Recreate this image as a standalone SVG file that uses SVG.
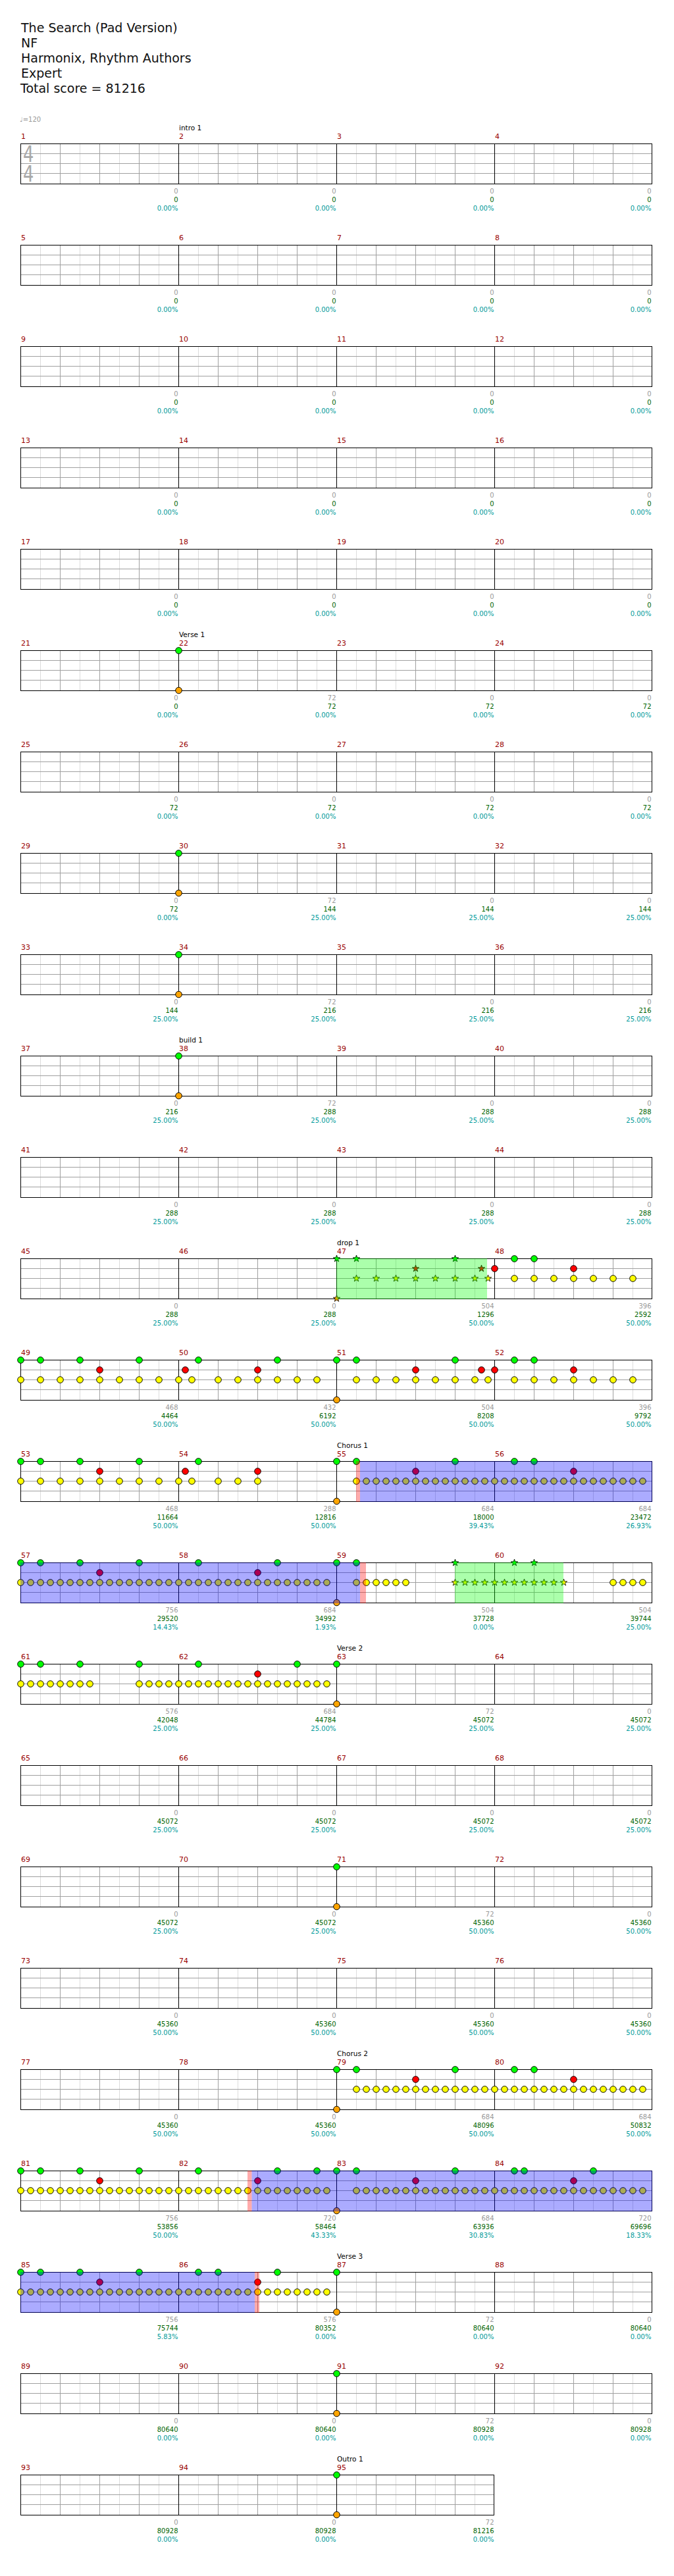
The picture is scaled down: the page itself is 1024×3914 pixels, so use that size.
<svg xmlns="http://www.w3.org/2000/svg" xmlns:xlink="http://www.w3.org/1999/xlink" width="1024" height="3914" viewBox="0 0 1024 3914">
<style>
.hdr{font-family:"DejaVu Sans",sans-serif;font-size:19px;fill:#111}
.tmp{font-family:"DejaVu Sans",sans-serif;font-size:10px;fill:#999}
.ts{font-family:"DejaVu Sans",sans-serif;font-size:33px;fill:#a8a8a8}
.mn{font-family:"DejaVu Sans",sans-serif;font-size:11px;fill:#990000}
.sec{font-family:"DejaVu Sans",sans-serif;font-size:10.5px;fill:#000}
.sc{font-family:"DejaVu Sans",sans-serif;font-size:10px;text-anchor:end}
.s1{fill:#999}.s2{fill:#006400}.s3{fill:#009a9a}
.lt{stroke:#dcdcdc;stroke-width:1;fill:none}
.gr{stroke:#a0a0a0;stroke-width:1;fill:none}
.bk{stroke:#000;stroke-width:1;fill:none}
.odg{fill:#00ff00;fill-opacity:0.33}
.odb{fill:#0000ff;fill-opacity:0.33}
.odr{fill:#ff0000;fill-opacity:0.33}
</style>
<defs>
<circle id="G" cx="0.5" cy="0.5" r="4.8" fill="#00ff00" stroke="#000"/>
<circle id="R" cx="0.5" cy="15.5" r="4.8" fill="#ff0000" stroke="#000"/>
<circle id="Y" cx="0.5" cy="30.5" r="4.8" fill="#ffff00" stroke="#000"/>
<circle id="O" cx="0.5" cy="61" r="4.8" fill="#ffa500" stroke="#000"/>
<path id="st" d="M0,-5.5L1.29,-1.78L5.23,-1.7L2.09,0.68L3.23,4.45L0,2.2L-3.23,4.45L-2.09,0.68L-5.23,-1.7L-1.29,-1.78Z" stroke="#000" stroke-width="0.8"/>
<use id="SG" href="#st" x="0.5" y="0.5" fill="#00ff00"/>
<use id="SR" href="#st" x="0.5" y="15.5" fill="#ff0000"/>
<use id="SY" href="#st" x="0.5" y="30.5" fill="#ffff00"/>
<use id="SO" href="#st" x="0.5" y="61" fill="#ffa500"/>
<g id="Y8"><use href="#Y" x="0"/><use href="#Y" x="15"/><use href="#Y" x="30"/><use href="#Y" x="45"/><use href="#Y" x="60"/><use href="#Y" x="75"/><use href="#Y" x="90"/><use href="#Y" x="105"/></g>
<g id="Y16"><use href="#Y8"/><use href="#Y8" x="120"/></g>
<g id="Ye8"><use href="#Y" x="0"/><use href="#Y" x="30"/><use href="#Y" x="60"/><use href="#Y" x="90"/><use href="#Y" x="120"/><use href="#Y" x="150"/><use href="#Y" x="180"/><use href="#Y" x="210"/></g>
<g id="st4">
<path class="lt" d="M61.5,1V61M121.5,1V61M181.5,1V61M241.5,1V61M301.5,1V61M361.5,1V61M421.5,1V61M481.5,1V61M541.5,1V61M601.5,1V61M661.5,1V61M721.5,1V61M781.5,1V61M841.5,1V61M901.5,1V61M961.5,1V61"/>
<path class="gr" d="M31,15.5H991M31,30.5H991M31,45.5H991M91.5,1V61M151.5,1V61M211.5,1V61M331.5,1V61M391.5,1V61M451.5,1V61M571.5,1V61M631.5,1V61M691.5,1V61M811.5,1V61M871.5,1V61M931.5,1V61"/>
<path class="bk" d="M271.5,0.5V61.5M511.5,0.5V61.5M751.5,0.5V61.5"/>
<rect class="bk" x="31.5" y="0.5" width="959" height="61"/>
</g>
<g id="st3">
<path class="lt" d="M61.5,1V61M121.5,1V61M181.5,1V61M241.5,1V61M301.5,1V61M361.5,1V61M421.5,1V61M481.5,1V61M541.5,1V61M601.5,1V61M661.5,1V61M721.5,1V61"/>
<path class="gr" d="M31,15.5H751M31,30.5H751M31,45.5H751M91.5,1V61M151.5,1V61M211.5,1V61M331.5,1V61M391.5,1V61M451.5,1V61M571.5,1V61M631.5,1V61M691.5,1V61"/>
<path class="bk" d="M271.5,0.5V61.5M511.5,0.5V61.5"/>
<rect class="bk" x="31.5" y="0.5" width="719" height="61"/>
</g>
</defs>

<g id="header">
<text class="hdr" x="32" y="49">The Search (Pad Version)</text>
<text class="hdr" x="32" y="72">NF</text>
<text class="hdr" x="32" y="95">Harmonix, Rhythm Authors</text>
<text class="hdr" x="32" y="118">Expert</text>
<text class="hdr" x="31" y="141">Total score = 81216</text>
<text class="tmp" x="30" y="185">♩=120</text>
</g>

<g id="row-1" transform="translate(0,218)">
<use href="#st4"/>
<g transform="translate(35,0) scale(0.78,1)"><text id="tsig" class="ts" x="0" y="28">4</text><use href="#tsig" y="30"/></g>
<text class="mn" x="32" y="-7">1</text><text class="mn" x="272" y="-7">2</text><text class="mn" x="512" y="-7">3</text><text class="mn" x="752" y="-7">4</text>
<text class="sec" x="272" y="-20">intro 1</text>
<text class="sc s1" x="270.5" y="76">0</text><text class="sc s2" x="270.5" y="89">0</text><text class="sc s3" x="270.5" y="102">0.00%</text>
<text class="sc s1" x="510.5" y="76">0</text><text class="sc s2" x="510.5" y="89">0</text><text class="sc s3" x="510.5" y="102">0.00%</text>
<text class="sc s1" x="750.5" y="76">0</text><text class="sc s2" x="750.5" y="89">0</text><text class="sc s3" x="750.5" y="102">0.00%</text>
<text class="sc s1" x="989.5" y="76">0</text><text class="sc s2" x="989.5" y="89">0</text><text class="sc s3" x="989.5" y="102">0.00%</text>
</g>

<g id="row-5" transform="translate(0,372)">
<use href="#st4"/>
<text class="mn" x="32" y="-7">5</text><text class="mn" x="272" y="-7">6</text><text class="mn" x="512" y="-7">7</text><text class="mn" x="752" y="-7">8</text>
<text class="sc s1" x="270.5" y="76">0</text><text class="sc s2" x="270.5" y="89">0</text><text class="sc s3" x="270.5" y="102">0.00%</text>
<text class="sc s1" x="510.5" y="76">0</text><text class="sc s2" x="510.5" y="89">0</text><text class="sc s3" x="510.5" y="102">0.00%</text>
<text class="sc s1" x="750.5" y="76">0</text><text class="sc s2" x="750.5" y="89">0</text><text class="sc s3" x="750.5" y="102">0.00%</text>
<text class="sc s1" x="989.5" y="76">0</text><text class="sc s2" x="989.5" y="89">0</text><text class="sc s3" x="989.5" y="102">0.00%</text>
</g>

<g id="row-9" transform="translate(0,526)">
<use href="#st4"/>
<text class="mn" x="32" y="-7">9</text><text class="mn" x="272" y="-7">10</text><text class="mn" x="512" y="-7">11</text><text class="mn" x="752" y="-7">12</text>
<text class="sc s1" x="270.5" y="76">0</text><text class="sc s2" x="270.5" y="89">0</text><text class="sc s3" x="270.5" y="102">0.00%</text>
<text class="sc s1" x="510.5" y="76">0</text><text class="sc s2" x="510.5" y="89">0</text><text class="sc s3" x="510.5" y="102">0.00%</text>
<text class="sc s1" x="750.5" y="76">0</text><text class="sc s2" x="750.5" y="89">0</text><text class="sc s3" x="750.5" y="102">0.00%</text>
<text class="sc s1" x="989.5" y="76">0</text><text class="sc s2" x="989.5" y="89">0</text><text class="sc s3" x="989.5" y="102">0.00%</text>
</g>

<g id="row-13" transform="translate(0,680)">
<use href="#st4"/>
<text class="mn" x="32" y="-7">13</text><text class="mn" x="272" y="-7">14</text><text class="mn" x="512" y="-7">15</text><text class="mn" x="752" y="-7">16</text>
<text class="sc s1" x="270.5" y="76">0</text><text class="sc s2" x="270.5" y="89">0</text><text class="sc s3" x="270.5" y="102">0.00%</text>
<text class="sc s1" x="510.5" y="76">0</text><text class="sc s2" x="510.5" y="89">0</text><text class="sc s3" x="510.5" y="102">0.00%</text>
<text class="sc s1" x="750.5" y="76">0</text><text class="sc s2" x="750.5" y="89">0</text><text class="sc s3" x="750.5" y="102">0.00%</text>
<text class="sc s1" x="989.5" y="76">0</text><text class="sc s2" x="989.5" y="89">0</text><text class="sc s3" x="989.5" y="102">0.00%</text>
</g>

<g id="row-17" transform="translate(0,834)">
<use href="#st4"/>
<text class="mn" x="32" y="-7">17</text><text class="mn" x="272" y="-7">18</text><text class="mn" x="512" y="-7">19</text><text class="mn" x="752" y="-7">20</text>
<text class="sc s1" x="270.5" y="76">0</text><text class="sc s2" x="270.5" y="89">0</text><text class="sc s3" x="270.5" y="102">0.00%</text>
<text class="sc s1" x="510.5" y="76">0</text><text class="sc s2" x="510.5" y="89">0</text><text class="sc s3" x="510.5" y="102">0.00%</text>
<text class="sc s1" x="750.5" y="76">0</text><text class="sc s2" x="750.5" y="89">0</text><text class="sc s3" x="750.5" y="102">0.00%</text>
<text class="sc s1" x="989.5" y="76">0</text><text class="sc s2" x="989.5" y="89">0</text><text class="sc s3" x="989.5" y="102">0.00%</text>
</g>

<g id="row-21" transform="translate(0,988)">
<use href="#st4"/>
<text class="mn" x="32" y="-7">21</text><text class="mn" x="272" y="-7">22</text><text class="mn" x="512" y="-7">23</text><text class="mn" x="752" y="-7">24</text>
<text class="sec" x="272" y="-20">Verse 1</text>
<use href="#G" x="271"/><use href="#O" x="271"/>
<text class="sc s1" x="270.5" y="76">0</text><text class="sc s2" x="270.5" y="89">0</text><text class="sc s3" x="270.5" y="102">0.00%</text>
<text class="sc s1" x="510.5" y="76">72</text><text class="sc s2" x="510.5" y="89">72</text><text class="sc s3" x="510.5" y="102">0.00%</text>
<text class="sc s1" x="750.5" y="76">0</text><text class="sc s2" x="750.5" y="89">72</text><text class="sc s3" x="750.5" y="102">0.00%</text>
<text class="sc s1" x="989.5" y="76">0</text><text class="sc s2" x="989.5" y="89">72</text><text class="sc s3" x="989.5" y="102">0.00%</text>
</g>

<g id="row-25" transform="translate(0,1142)">
<use href="#st4"/>
<text class="mn" x="32" y="-7">25</text><text class="mn" x="272" y="-7">26</text><text class="mn" x="512" y="-7">27</text><text class="mn" x="752" y="-7">28</text>
<text class="sc s1" x="270.5" y="76">0</text><text class="sc s2" x="270.5" y="89">72</text><text class="sc s3" x="270.5" y="102">0.00%</text>
<text class="sc s1" x="510.5" y="76">0</text><text class="sc s2" x="510.5" y="89">72</text><text class="sc s3" x="510.5" y="102">0.00%</text>
<text class="sc s1" x="750.5" y="76">0</text><text class="sc s2" x="750.5" y="89">72</text><text class="sc s3" x="750.5" y="102">0.00%</text>
<text class="sc s1" x="989.5" y="76">0</text><text class="sc s2" x="989.5" y="89">72</text><text class="sc s3" x="989.5" y="102">0.00%</text>
</g>

<g id="row-29" transform="translate(0,1296)">
<use href="#st4"/>
<text class="mn" x="32" y="-7">29</text><text class="mn" x="272" y="-7">30</text><text class="mn" x="512" y="-7">31</text><text class="mn" x="752" y="-7">32</text>
<use href="#G" x="271"/><use href="#O" x="271"/>
<text class="sc s1" x="270.5" y="76">0</text><text class="sc s2" x="270.5" y="89">72</text><text class="sc s3" x="270.5" y="102">0.00%</text>
<text class="sc s1" x="510.5" y="76">72</text><text class="sc s2" x="510.5" y="89">144</text><text class="sc s3" x="510.5" y="102">25.00%</text>
<text class="sc s1" x="750.5" y="76">0</text><text class="sc s2" x="750.5" y="89">144</text><text class="sc s3" x="750.5" y="102">25.00%</text>
<text class="sc s1" x="989.5" y="76">0</text><text class="sc s2" x="989.5" y="89">144</text><text class="sc s3" x="989.5" y="102">25.00%</text>
</g>

<g id="row-33" transform="translate(0,1450)">
<use href="#st4"/>
<text class="mn" x="32" y="-7">33</text><text class="mn" x="272" y="-7">34</text><text class="mn" x="512" y="-7">35</text><text class="mn" x="752" y="-7">36</text>
<use href="#G" x="271"/><use href="#O" x="271"/>
<text class="sc s1" x="270.5" y="76">0</text><text class="sc s2" x="270.5" y="89">144</text><text class="sc s3" x="270.5" y="102">25.00%</text>
<text class="sc s1" x="510.5" y="76">72</text><text class="sc s2" x="510.5" y="89">216</text><text class="sc s3" x="510.5" y="102">25.00%</text>
<text class="sc s1" x="750.5" y="76">0</text><text class="sc s2" x="750.5" y="89">216</text><text class="sc s3" x="750.5" y="102">25.00%</text>
<text class="sc s1" x="989.5" y="76">0</text><text class="sc s2" x="989.5" y="89">216</text><text class="sc s3" x="989.5" y="102">25.00%</text>
</g>

<g id="row-37" transform="translate(0,1604)">
<use href="#st4"/>
<text class="mn" x="32" y="-7">37</text><text class="mn" x="272" y="-7">38</text><text class="mn" x="512" y="-7">39</text><text class="mn" x="752" y="-7">40</text>
<text class="sec" x="272" y="-20">build 1</text>
<use href="#G" x="271"/><use href="#O" x="271"/>
<text class="sc s1" x="270.5" y="76">0</text><text class="sc s2" x="270.5" y="89">216</text><text class="sc s3" x="270.5" y="102">25.00%</text>
<text class="sc s1" x="510.5" y="76">72</text><text class="sc s2" x="510.5" y="89">288</text><text class="sc s3" x="510.5" y="102">25.00%</text>
<text class="sc s1" x="750.5" y="76">0</text><text class="sc s2" x="750.5" y="89">288</text><text class="sc s3" x="750.5" y="102">25.00%</text>
<text class="sc s1" x="989.5" y="76">0</text><text class="sc s2" x="989.5" y="89">288</text><text class="sc s3" x="989.5" y="102">25.00%</text>
</g>

<g id="row-41" transform="translate(0,1758)">
<use href="#st4"/>
<text class="mn" x="32" y="-7">41</text><text class="mn" x="272" y="-7">42</text><text class="mn" x="512" y="-7">43</text><text class="mn" x="752" y="-7">44</text>
<text class="sc s1" x="270.5" y="76">0</text><text class="sc s2" x="270.5" y="89">288</text><text class="sc s3" x="270.5" y="102">25.00%</text>
<text class="sc s1" x="510.5" y="76">0</text><text class="sc s2" x="510.5" y="89">288</text><text class="sc s3" x="510.5" y="102">25.00%</text>
<text class="sc s1" x="750.5" y="76">0</text><text class="sc s2" x="750.5" y="89">288</text><text class="sc s3" x="750.5" y="102">25.00%</text>
<text class="sc s1" x="989.5" y="76">0</text><text class="sc s2" x="989.5" y="89">288</text><text class="sc s3" x="989.5" y="102">25.00%</text>
</g>

<g id="row-45" transform="translate(0,1912)">
<use href="#st4"/>
<text class="mn" x="32" y="-7">45</text><text class="mn" x="272" y="-7">46</text><text class="mn" x="512" y="-7">47</text><text class="mn" x="752" y="-7">48</text>
<text class="sec" x="512" y="-20">drop 1</text>
<use href="#SY" x="541"/><use href="#SY" x="571"/><use href="#SY" x="601"/><use href="#SY" x="631"/><use href="#SY" x="661"/><use href="#SY" x="691"/><use href="#SY" x="721"/><use href="#SY" x="741"/>
<use href="#SR" x="631"/><use href="#SR" x="731"/>
<use href="#SG" x="511"/><use href="#SG" x="541"/><use href="#SG" x="691"/>
<use href="#SO" x="511"/>
<rect class="odg" x="511" y="0" width="229" height="62"/>
<use href="#Y" x="781"/><use href="#Y" x="811"/><use href="#Y" x="841"/><use href="#Y" x="871"/><use href="#Y" x="901"/><use href="#Y" x="931"/><use href="#Y" x="961"/>
<use href="#R" x="751"/><use href="#R" x="871"/>
<use href="#G" x="781"/><use href="#G" x="811"/>
<text class="sc s1" x="270.5" y="76">0</text><text class="sc s2" x="270.5" y="89">288</text><text class="sc s3" x="270.5" y="102">25.00%</text>
<text class="sc s1" x="510.5" y="76">0</text><text class="sc s2" x="510.5" y="89">288</text><text class="sc s3" x="510.5" y="102">25.00%</text>
<text class="sc s1" x="750.5" y="76">504</text><text class="sc s2" x="750.5" y="89">1296</text><text class="sc s3" x="750.5" y="102">50.00%</text>
<text class="sc s1" x="989.5" y="76">396</text><text class="sc s2" x="989.5" y="89">2592</text><text class="sc s3" x="989.5" y="102">50.00%</text>
</g>

<g id="row-49" transform="translate(0,2066)">
<use href="#st4"/>
<text class="mn" x="32" y="-7">49</text><text class="mn" x="272" y="-7">50</text><text class="mn" x="512" y="-7">51</text><text class="mn" x="752" y="-7">52</text>
<use href="#Ye8" x="31"/><use href="#Y" x="271"/><use href="#Y" x="291"/><use href="#Y" x="331"/><use href="#Y" x="361"/><use href="#Y" x="391"/><use href="#Y" x="421"/><use href="#Y" x="451"/><use href="#Y" x="481"/>
<use href="#Y" x="541"/><use href="#Y" x="571"/><use href="#Y" x="601"/><use href="#Y" x="631"/><use href="#Y" x="661"/><use href="#Y" x="691"/><use href="#Y" x="721"/><use href="#Y" x="741"/>
<use href="#Y" x="781"/><use href="#Y" x="811"/><use href="#Y" x="841"/><use href="#Y" x="871"/><use href="#Y" x="901"/><use href="#Y" x="931"/><use href="#Y" x="961"/>
<use href="#R" x="151"/><use href="#R" x="281"/><use href="#R" x="391"/><use href="#R" x="631"/><use href="#R" x="731"/><use href="#R" x="751"/><use href="#R" x="871"/>
<use href="#G" x="31"/><use href="#G" x="61"/><use href="#G" x="121"/><use href="#G" x="211"/><use href="#G" x="301"/><use href="#G" x="421"/><use href="#G" x="511"/><use href="#G" x="541"/><use href="#G" x="691"/><use href="#G" x="781"/><use href="#G" x="811"/>
<use href="#O" x="511"/>
<text class="sc s1" x="270.5" y="76">468</text><text class="sc s2" x="270.5" y="89">4464</text><text class="sc s3" x="270.5" y="102">50.00%</text>
<text class="sc s1" x="510.5" y="76">432</text><text class="sc s2" x="510.5" y="89">6192</text><text class="sc s3" x="510.5" y="102">50.00%</text>
<text class="sc s1" x="750.5" y="76">504</text><text class="sc s2" x="750.5" y="89">8208</text><text class="sc s3" x="750.5" y="102">50.00%</text>
<text class="sc s1" x="989.5" y="76">396</text><text class="sc s2" x="989.5" y="89">9792</text><text class="sc s3" x="989.5" y="102">50.00%</text>
</g>

<g id="row-53" transform="translate(0,2220)">
<use href="#st4"/>
<text class="mn" x="32" y="-7">53</text><text class="mn" x="272" y="-7">54</text><text class="mn" x="512" y="-7">55</text><text class="mn" x="752" y="-7">56</text>
<text class="sec" x="512" y="-20">Chorus 1</text>
<use href="#Ye8" x="31"/><use href="#Y" x="271"/><use href="#Y" x="291"/><use href="#Y" x="331"/><use href="#Y" x="361"/><use href="#Y" x="391"/>
<use href="#Y" x="541"/><use href="#Y" x="556"/><use href="#Y" x="571"/><use href="#Y" x="586"/><use href="#Y" x="601"/><use href="#Y" x="616"/><use href="#Y8" x="631"/><use href="#Y16" x="751"/>
<use href="#R" x="151"/><use href="#R" x="281"/><use href="#R" x="391"/><use href="#R" x="631"/><use href="#R" x="871"/>
<use href="#G" x="31"/><use href="#G" x="61"/><use href="#G" x="121"/><use href="#G" x="211"/><use href="#G" x="301"/><use href="#G" x="511"/><use href="#G" x="541"/><use href="#G" x="691"/><use href="#G" x="781"/><use href="#G" x="811"/>
<use href="#O" x="511"/>
<rect class="odr" x="541" y="0" width="6" height="62"/>
<rect class="odb" x="547" y="0" width="444" height="62"/>
<text class="sc s1" x="270.5" y="76">468</text><text class="sc s2" x="270.5" y="89">11664</text><text class="sc s3" x="270.5" y="102">50.00%</text>
<text class="sc s1" x="510.5" y="76">288</text><text class="sc s2" x="510.5" y="89">12816</text><text class="sc s3" x="510.5" y="102">50.00%</text>
<text class="sc s1" x="750.5" y="76">684</text><text class="sc s2" x="750.5" y="89">18000</text><text class="sc s3" x="750.5" y="102">39.43%</text>
<text class="sc s1" x="989.5" y="76">684</text><text class="sc s2" x="989.5" y="89">23472</text><text class="sc s3" x="989.5" y="102">26.93%</text>
</g>

<g id="row-57" transform="translate(0,2374)">
<use href="#st4"/>
<text class="mn" x="32" y="-7">57</text><text class="mn" x="272" y="-7">58</text><text class="mn" x="512" y="-7">59</text><text class="mn" x="752" y="-7">60</text>
<use href="#Y16" x="31"/><use href="#Y16" x="271"/>
<use href="#Y" x="541"/><use href="#Y" x="556"/><use href="#Y" x="571"/><use href="#Y" x="586"/><use href="#Y" x="601"/><use href="#Y" x="616"/>
<use href="#R" x="151"/><use href="#R" x="391"/>
<use href="#G" x="31"/><use href="#G" x="61"/><use href="#G" x="121"/><use href="#G" x="211"/><use href="#G" x="301"/><use href="#G" x="421"/><use href="#G" x="511"/><use href="#G" x="541"/>
<use href="#O" x="511"/>
<rect class="odb" x="31" y="0" width="516" height="62"/>
<rect class="odr" x="547" y="0" width="9" height="62"/>
<use href="#SY" x="691"/><use href="#SY" x="706"/><use href="#SY" x="721"/><use href="#SY" x="736"/><use href="#SY" x="751"/><use href="#SY" x="766"/><use href="#SY" x="781"/><use href="#SY" x="796"/><use href="#SY" x="811"/><use href="#SY" x="826"/><use href="#SY" x="841"/><use href="#SY" x="856"/>
<use href="#SG" x="691"/><use href="#SG" x="781"/><use href="#SG" x="811"/>
<rect class="odg" x="691" y="0" width="165" height="62"/>
<use href="#Y" x="931"/><use href="#Y" x="946"/><use href="#Y" x="961"/><use href="#Y" x="976"/>
<text class="sc s1" x="270.5" y="76">756</text><text class="sc s2" x="270.5" y="89">29520</text><text class="sc s3" x="270.5" y="102">14.43%</text>
<text class="sc s1" x="510.5" y="76">684</text><text class="sc s2" x="510.5" y="89">34992</text><text class="sc s3" x="510.5" y="102">1.93%</text>
<text class="sc s1" x="750.5" y="76">504</text><text class="sc s2" x="750.5" y="89">37728</text><text class="sc s3" x="750.5" y="102">0.00%</text>
<text class="sc s1" x="989.5" y="76">504</text><text class="sc s2" x="989.5" y="89">39744</text><text class="sc s3" x="989.5" y="102">25.00%</text>
</g>

<g id="row-61" transform="translate(0,2528)">
<use href="#st4"/>
<text class="mn" x="32" y="-7">61</text><text class="mn" x="272" y="-7">62</text><text class="mn" x="512" y="-7">63</text><text class="mn" x="752" y="-7">64</text>
<text class="sec" x="512" y="-20">Verse 2</text>
<use href="#Y8" x="31"/><use href="#Y" x="211"/><use href="#Y" x="226"/><use href="#Y" x="241"/><use href="#Y" x="256"/><use href="#Y16" x="271"/>
<use href="#R" x="391"/>
<use href="#G" x="31"/><use href="#G" x="61"/><use href="#G" x="121"/><use href="#G" x="211"/><use href="#G" x="301"/><use href="#G" x="451"/><use href="#G" x="511"/>
<use href="#O" x="511"/>
<text class="sc s1" x="270.5" y="76">576</text><text class="sc s2" x="270.5" y="89">42048</text><text class="sc s3" x="270.5" y="102">25.00%</text>
<text class="sc s1" x="510.5" y="76">684</text><text class="sc s2" x="510.5" y="89">44784</text><text class="sc s3" x="510.5" y="102">25.00%</text>
<text class="sc s1" x="750.5" y="76">72</text><text class="sc s2" x="750.5" y="89">45072</text><text class="sc s3" x="750.5" y="102">25.00%</text>
<text class="sc s1" x="989.5" y="76">0</text><text class="sc s2" x="989.5" y="89">45072</text><text class="sc s3" x="989.5" y="102">25.00%</text>
</g>

<g id="row-65" transform="translate(0,2682)">
<use href="#st4"/>
<text class="mn" x="32" y="-7">65</text><text class="mn" x="272" y="-7">66</text><text class="mn" x="512" y="-7">67</text><text class="mn" x="752" y="-7">68</text>
<text class="sc s1" x="270.5" y="76">0</text><text class="sc s2" x="270.5" y="89">45072</text><text class="sc s3" x="270.5" y="102">25.00%</text>
<text class="sc s1" x="510.5" y="76">0</text><text class="sc s2" x="510.5" y="89">45072</text><text class="sc s3" x="510.5" y="102">25.00%</text>
<text class="sc s1" x="750.5" y="76">0</text><text class="sc s2" x="750.5" y="89">45072</text><text class="sc s3" x="750.5" y="102">25.00%</text>
<text class="sc s1" x="989.5" y="76">0</text><text class="sc s2" x="989.5" y="89">45072</text><text class="sc s3" x="989.5" y="102">25.00%</text>
</g>

<g id="row-69" transform="translate(0,2836)">
<use href="#st4"/>
<text class="mn" x="32" y="-7">69</text><text class="mn" x="272" y="-7">70</text><text class="mn" x="512" y="-7">71</text><text class="mn" x="752" y="-7">72</text>
<use href="#G" x="511"/><use href="#O" x="511"/>
<text class="sc s1" x="270.5" y="76">0</text><text class="sc s2" x="270.5" y="89">45072</text><text class="sc s3" x="270.5" y="102">25.00%</text>
<text class="sc s1" x="510.5" y="76">0</text><text class="sc s2" x="510.5" y="89">45072</text><text class="sc s3" x="510.5" y="102">25.00%</text>
<text class="sc s1" x="750.5" y="76">72</text><text class="sc s2" x="750.5" y="89">45360</text><text class="sc s3" x="750.5" y="102">50.00%</text>
<text class="sc s1" x="989.5" y="76">0</text><text class="sc s2" x="989.5" y="89">45360</text><text class="sc s3" x="989.5" y="102">50.00%</text>
</g>

<g id="row-73" transform="translate(0,2990)">
<use href="#st4"/>
<text class="mn" x="32" y="-7">73</text><text class="mn" x="272" y="-7">74</text><text class="mn" x="512" y="-7">75</text><text class="mn" x="752" y="-7">76</text>
<text class="sc s1" x="270.5" y="76">0</text><text class="sc s2" x="270.5" y="89">45360</text><text class="sc s3" x="270.5" y="102">50.00%</text>
<text class="sc s1" x="510.5" y="76">0</text><text class="sc s2" x="510.5" y="89">45360</text><text class="sc s3" x="510.5" y="102">50.00%</text>
<text class="sc s1" x="750.5" y="76">0</text><text class="sc s2" x="750.5" y="89">45360</text><text class="sc s3" x="750.5" y="102">50.00%</text>
<text class="sc s1" x="989.5" y="76">0</text><text class="sc s2" x="989.5" y="89">45360</text><text class="sc s3" x="989.5" y="102">50.00%</text>
</g>

<g id="row-77" transform="translate(0,3144)">
<use href="#st4"/>
<text class="mn" x="32" y="-7">77</text><text class="mn" x="272" y="-7">78</text><text class="mn" x="512" y="-7">79</text><text class="mn" x="752" y="-7">80</text>
<text class="sec" x="512" y="-20">Chorus 2</text>
<use href="#Y" x="541"/><use href="#Y" x="556"/><use href="#Y" x="571"/><use href="#Y" x="586"/><use href="#Y" x="601"/><use href="#Y" x="616"/><use href="#Y8" x="631"/><use href="#Y16" x="751"/>
<use href="#R" x="631"/><use href="#R" x="871"/>
<use href="#G" x="511"/><use href="#G" x="541"/><use href="#G" x="691"/><use href="#G" x="781"/><use href="#G" x="811"/>
<use href="#O" x="511"/>
<text class="sc s1" x="270.5" y="76">0</text><text class="sc s2" x="270.5" y="89">45360</text><text class="sc s3" x="270.5" y="102">50.00%</text>
<text class="sc s1" x="510.5" y="76">0</text><text class="sc s2" x="510.5" y="89">45360</text><text class="sc s3" x="510.5" y="102">50.00%</text>
<text class="sc s1" x="750.5" y="76">684</text><text class="sc s2" x="750.5" y="89">48096</text><text class="sc s3" x="750.5" y="102">50.00%</text>
<text class="sc s1" x="989.5" y="76">684</text><text class="sc s2" x="989.5" y="89">50832</text><text class="sc s3" x="989.5" y="102">50.00%</text>
</g>

<g id="row-81" transform="translate(0,3298)">
<use href="#st4"/>
<text class="mn" x="32" y="-7">81</text><text class="mn" x="272" y="-7">82</text><text class="mn" x="512" y="-7">83</text><text class="mn" x="752" y="-7">84</text>
<use href="#Y16" x="31"/><use href="#Y16" x="271"/>
<use href="#Y" x="541"/><use href="#Y" x="556"/><use href="#Y" x="571"/><use href="#Y" x="586"/><use href="#Y" x="601"/><use href="#Y" x="616"/><use href="#Y8" x="631"/><use href="#Y16" x="751"/>
<use href="#R" x="151"/><use href="#R" x="391"/><use href="#R" x="631"/><use href="#R" x="871"/>
<use href="#G" x="31"/><use href="#G" x="61"/><use href="#G" x="121"/><use href="#G" x="211"/><use href="#G" x="301"/><use href="#G" x="421"/><use href="#G" x="481"/><use href="#G" x="511"/><use href="#G" x="541"/><use href="#G" x="691"/><use href="#G" x="781"/><use href="#G" x="796"/><use href="#G" x="901"/>
<use href="#O" x="511"/>
<rect class="odr" x="376" y="0" width="6.5" height="62"/>
<rect class="odb" x="382.5" y="0" width="608.5" height="62"/>
<text class="sc s1" x="270.5" y="76">756</text><text class="sc s2" x="270.5" y="89">53856</text><text class="sc s3" x="270.5" y="102">50.00%</text>
<text class="sc s1" x="510.5" y="76">720</text><text class="sc s2" x="510.5" y="89">58464</text><text class="sc s3" x="510.5" y="102">43.33%</text>
<text class="sc s1" x="750.5" y="76">684</text><text class="sc s2" x="750.5" y="89">63936</text><text class="sc s3" x="750.5" y="102">30.83%</text>
<text class="sc s1" x="989.5" y="76">720</text><text class="sc s2" x="989.5" y="89">69696</text><text class="sc s3" x="989.5" y="102">18.33%</text>
</g>

<g id="row-85" transform="translate(0,3452)">
<use href="#st4"/>
<text class="mn" x="32" y="-7">85</text><text class="mn" x="272" y="-7">86</text><text class="mn" x="512" y="-7">87</text><text class="mn" x="752" y="-7">88</text>
<text class="sec" x="512" y="-20">Verse 3</text>
<use href="#Y16" x="31"/><use href="#Y16" x="271"/>
<use href="#R" x="151"/><use href="#R" x="391"/>
<use href="#G" x="31"/><use href="#G" x="61"/><use href="#G" x="121"/><use href="#G" x="211"/><use href="#G" x="301"/><use href="#G" x="331"/><use href="#G" x="421"/><use href="#G" x="511"/>
<use href="#O" x="511"/>
<rect class="odb" x="31" y="0" width="356" height="62"/>
<rect class="odr" x="387" y="0" width="7" height="62"/>
<text class="sc s1" x="270.5" y="76">756</text><text class="sc s2" x="270.5" y="89">75744</text><text class="sc s3" x="270.5" y="102">5.83%</text>
<text class="sc s1" x="510.5" y="76">576</text><text class="sc s2" x="510.5" y="89">80352</text><text class="sc s3" x="510.5" y="102">0.00%</text>
<text class="sc s1" x="750.5" y="76">72</text><text class="sc s2" x="750.5" y="89">80640</text><text class="sc s3" x="750.5" y="102">0.00%</text>
<text class="sc s1" x="989.5" y="76">0</text><text class="sc s2" x="989.5" y="89">80640</text><text class="sc s3" x="989.5" y="102">0.00%</text>
</g>

<g id="row-89" transform="translate(0,3606)">
<use href="#st4"/>
<text class="mn" x="32" y="-7">89</text><text class="mn" x="272" y="-7">90</text><text class="mn" x="512" y="-7">91</text><text class="mn" x="752" y="-7">92</text>
<use href="#G" x="511"/><use href="#O" x="511"/>
<text class="sc s1" x="270.5" y="76">0</text><text class="sc s2" x="270.5" y="89">80640</text><text class="sc s3" x="270.5" y="102">0.00%</text>
<text class="sc s1" x="510.5" y="76">0</text><text class="sc s2" x="510.5" y="89">80640</text><text class="sc s3" x="510.5" y="102">0.00%</text>
<text class="sc s1" x="750.5" y="76">72</text><text class="sc s2" x="750.5" y="89">80928</text><text class="sc s3" x="750.5" y="102">0.00%</text>
<text class="sc s1" x="989.5" y="76">0</text><text class="sc s2" x="989.5" y="89">80928</text><text class="sc s3" x="989.5" y="102">0.00%</text>
</g>

<g id="row-93" transform="translate(0,3760)">
<use href="#st3"/>
<text class="mn" x="32" y="-7">93</text><text class="mn" x="272" y="-7">94</text><text class="mn" x="512" y="-7">95</text>
<text class="sec" x="512" y="-20">Outro 1</text>
<use href="#G" x="511"/><use href="#O" x="511"/>
<text class="sc s1" x="270.5" y="76">0</text><text class="sc s2" x="270.5" y="89">80928</text><text class="sc s3" x="270.5" y="102">0.00%</text>
<text class="sc s1" x="510.5" y="76">0</text><text class="sc s2" x="510.5" y="89">80928</text><text class="sc s3" x="510.5" y="102">0.00%</text>
<text class="sc s1" x="750.5" y="76">72</text><text class="sc s2" x="750.5" y="89">81216</text><text class="sc s3" x="750.5" y="102">0.00%</text>
</g>
</svg>
